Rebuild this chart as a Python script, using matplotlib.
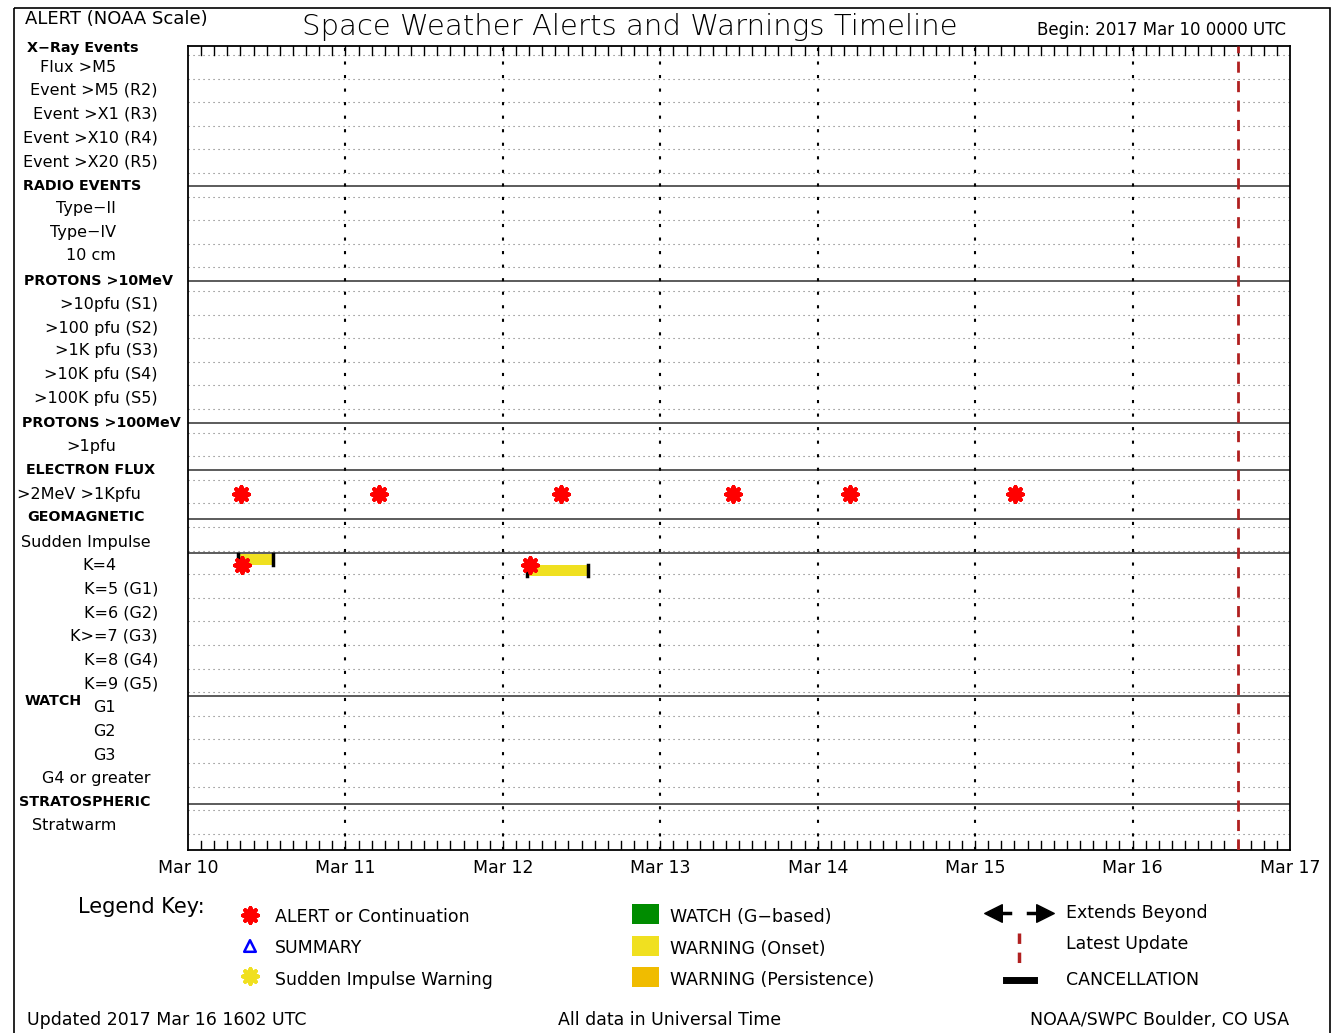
import matplotlib
matplotlib.use("Agg")
import matplotlib.pyplot as plt
from matplotlib.patches import Rectangle
import numpy as np

W, H = 1337, 1033
PX0, PX1, PY0, PY1 = 188, 1290, 46, 850  # plot box in pixels (top=PY0)

# row labels: (text, bold, x anchor, y_pixel, alignment)
ROW_LABELS = [
    ("X\u2212Ray Events", True, 27, 48, "left"),
    ("Flux >M5", False, 116, 67, "right"),
    ("Event >M5 (R2)", False, 158, 90, "right"),
    ("Event >X1 (R3)", False, 158, 114, "right"),
    ("Event >X10 (R4)", False, 158, 138, "right"),
    ("Event >X20 (R5)", False, 158, 162, "right"),
    ("RADIO EVENTS", True, 23, 186, "left"),
    ("Type\u2212II", False, 116, 209, "right"),
    ("Type\u2212IV", False, 116, 233, "right"),
    ("10 cm", False, 116, 256, "right"),
    ("PROTONS >10MeV", True, 24, 281, "left"),
    (">10pfu (S1)", False, 158, 304, "right"),
    (">100 pfu (S2)", False, 158, 328, "right"),
    (">1K pfu (S3)", False, 158, 351, "right"),
    (">10K pfu (S4)", False, 158, 375, "right"),
    (">100K pfu (S5)", False, 158, 399, "right"),
    ("PROTONS >100MeV", True, 22, 423, "left"),
    (">1pfu", False, 116, 447, "right"),
    ("ELECTRON FLUX", True, 26, 470, "left"),
    (">2MeV >1Kpfu", False, 141, 494, "right"),
    ("GEOMAGNETIC", True, 27, 517, "left"),
    ("Sudden Impulse", False, 151, 542, "right"),
    ("K=4", False, 116, 565, "right"),
    ("K=5 (G1)", False, 158, 589, "right"),
    ("K=6 (G2)", False, 158, 613, "right"),
    ("K>=7 (G3)", False, 158, 636, "right"),
    ("K=8 (G4)", False, 158, 660, "right"),
    ("K=9 (G5)", False, 158, 684, "right"),
    ("WATCH", True, 25, 701, "left"),
    ("G1", False, 116, 708, "right"),
    ("G2", False, 116, 731, "right"),
    ("G3", False, 116, 755, "right"),
    ("G4 or greater", False, 151, 779, "right"),
    ("STRATOSPHERIC", True, 19, 802, "left"),
    ("Stratwarm", False, 116, 826, "right"),
]
SECTION_LINES = [186, 281, 423, 470, 519, 553, 696, 804]
ROW_Y = {"electron": 494, "k4": 565}

DAYS = ["Mar 10", "Mar 11", "Mar 12", "Mar 13", "Mar 14", "Mar 15", "Mar 16", "Mar 17"]
ELECTRON_ALERTS = [0.337, 1.213, 2.369, 3.462, 4.205, 5.253]
K4_ALERTS = [0.343, 2.172]
K4_WARN_START = [0.318, 2.153]
K4_WARN_END = [0.540, 2.541]
K4_WARN_TOP = [554, 565]  # pixel rows of the bars
LATEST_UPDATE = 6.670

fig = plt.figure(figsize=(W / 100, H / 100), dpi=100)
page = fig.add_axes([0, 0, 1, 1])
page.set_xlim(0, W)
page.set_ylim(H, 0)
page.axis("off")

ax = fig.add_axes([PX0 / W, 1 - PY1 / H, (PX1 - PX0) / W, (PY1 - PY0) / H])
ax.set_xlim(0, 7)
ax.set_ylim(PY1, PY0)
ax.set_xticks([])
ax.set_yticks([])
for s in ax.spines.values():
    s.set_linewidth(1.3)

# dotted row grid
for y in np.arange(55, PY1, 23.6):
    ax.axhline(y, color="0.45", linestyle=(0, (1, 3.5)), linewidth=0.8)
for y in SECTION_LINES:
    ax.axhline(y, color="0.25", linewidth=1.2)
for d in range(1, 7):
    ax.axvline(d, color="black", linestyle=(0, (1.5, 5)), linewidth=1.5)
# 2-hour ticks at top and bottom
for h in np.arange(2, 168, 2):
    xd = h / 24
    ax.plot([xd, xd], [PY0, PY0 + 9], color="black", linewidth=1)
    ax.plot([xd, xd], [PY1, PY1 - 9], color="black", linewidth=1)

for s, e, top in zip(K4_WARN_START, K4_WARN_END, K4_WARN_TOP):
    ax.add_patch(Rectangle((s, top), e - s, 11, facecolor="#f0e020", edgecolor="none", zorder=3))
    ax.plot([s, s], [top, top + 11], color="black", linewidth=2.5, zorder=4)
    ax.plot([e, e], [top, top + 11], color="black", linewidth=2.5, zorder=4)
ax.scatter(ELECTRON_ALERTS, [ROW_Y["electron"]] * len(ELECTRON_ALERTS), marker=(8, 2, 0),
           s=110, color="red", linewidths=3, zorder=5)
ax.scatter(K4_ALERTS, [ROW_Y["k4"]] * len(K4_ALERTS), marker=(8, 2, 0),
           s=110, color="red", linewidths=3, zorder=5)
ax.axvline(LATEST_UPDATE, color="#b02020", linestyle=(0, (4, 3)), linewidth=2, zorder=6)

# page border
page.add_patch(Rectangle((14, 8), 1316, 1040, fill=False, edgecolor="black", linewidth=1.2))

fn = "DejaVu Sans"
page.text(25, 19, "ALERT (NOAA Scale)", fontsize=13, va="center", family=fn)
page.text(630, 27, "Space Weather Alerts and Warnings Timeline", fontsize=21, ha="center",
          va="center", family=fn, fontweight="light")
page.text(1037, 30, "Begin: 2017 Mar 10 0000 UTC", fontsize=12, va="center", family=fn)

for text, bold, x, y, ha in ROW_LABELS:
    page.text(x, y, text, fontsize=11.5 if not bold else 10.3, ha=ha, va="center",
              fontweight="bold" if bold else "normal", family=fn)

for i, d in enumerate(DAYS):
    page.text(PX0 + i * (PX1 - PX0) / 7, 868, d, fontsize=12.5, ha="center", va="center", family=fn)

# legend
page.text(78, 907, "Legend Key:", fontsize=15, va="center", family=fn)
page.scatter([250], [915], marker=(8, 2, 0), s=110, color="red", linewidths=3)
page.text(275, 917, "ALERT or Continuation", fontsize=12.5, va="center", family=fn)
page.scatter([250], [946], marker="^", s=70, facecolor="none", edgecolor="blue", linewidths=1.8)
page.text(275, 948, "SUMMARY", fontsize=12.5, va="center", family=fn)
page.scatter([250], [976], marker=(8, 2, 0), s=110, color="#f0e020", linewidths=3)
page.text(275, 980, "Sudden Impulse Warning", fontsize=12.5, va="center", family=fn)
for y, c, t in [(914, "#008c00", "WATCH (G\u2212based)"), (946, "#f0e020", "WARNING (Onset)"),
                (977, "#f0bc00", "WARNING (Persistence)")]:
    page.add_patch(Rectangle((632, y - 10), 27, 20, facecolor=c, edgecolor="none"))
    page.text(670, y + 3, t, fontsize=12.5, va="center", family=fn)
page.scatter([993], [913], marker="<", s=160, color="black")
page.scatter([1045], [913], marker=">", s=160, color="black")
page.plot([993, 1010], [913, 913], color="black", linewidth=2.5)
page.plot([1028, 1045], [913, 913], color="black", linewidth=2.5)
page.text(1066, 913, "Extends Beyond", fontsize=12.5, va="center", family=fn)
page.plot([1019, 1019], [933, 968], color="#b02020", linewidth=2.5, linestyle=(0, (3, 2.5)))
page.text(1066, 944, "Latest Update", fontsize=12.5, va="center", family=fn)
page.plot([1006, 1034], [980, 980], color="black", linewidth=5)
page.text(1066, 980, "CANCELLATION", fontsize=12.5, va="center", family=fn)

page.text(27, 1020, "Updated 2017 Mar 16 1602 UTC", fontsize=12.5, va="center", family=fn)
page.text(670, 1020, "All data in Universal Time", fontsize=12.5, ha="center", va="center", family=fn)
page.text(1289, 1020, "NOAA/SWPC Boulder, CO USA", fontsize=12.5, ha="right", va="center", family=fn)

fig.savefig("out.png", dpi=100, facecolor="white")
